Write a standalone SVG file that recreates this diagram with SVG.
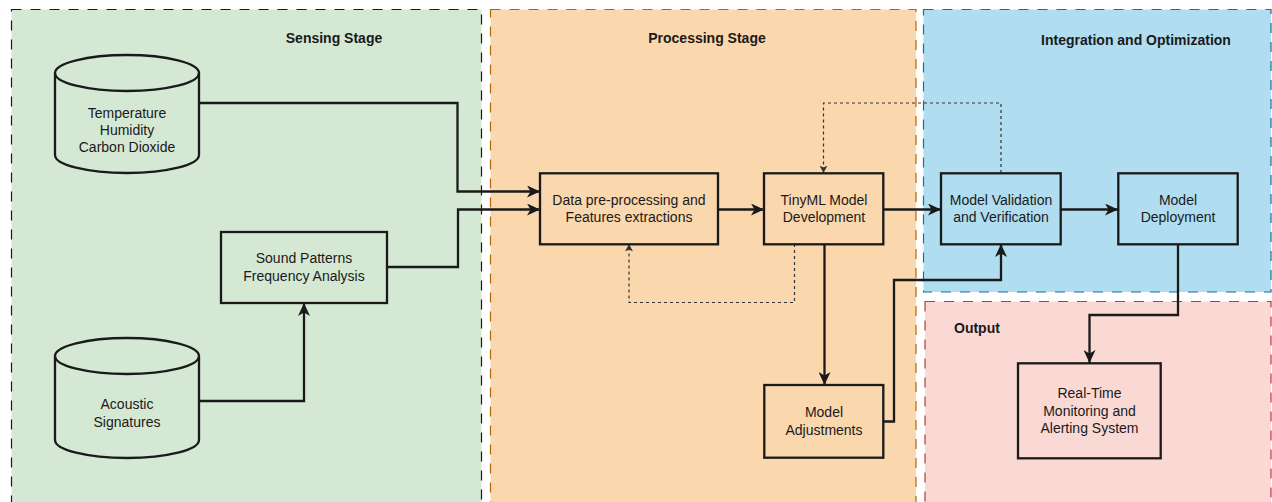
<svg xmlns="http://www.w3.org/2000/svg" width="1272" height="502" viewBox="0 0 1272 502">
  <defs>
    <style>
      .panel { stroke-width: 1.2; stroke-dasharray: 10 9; }
      .node { stroke: #1a1a1a; stroke-width: 2.3; }
      .lbl { font-family: "Liberation Sans", Arial, sans-serif; font-size: 14px; fill: #1a1a1a; text-anchor: middle; }
      .title { font-family: "Liberation Sans", Arial, sans-serif; font-size: 14px; font-weight: bold; fill: #1a1a1a; text-anchor: middle; }
      .edge { fill: none; stroke: #1a1a1a; stroke-width: 2.3; marker-end: url(#arrow); }
      .edge.plain { marker-end: none; }
      .dash { fill: none; stroke: #333; stroke-width: 1.2; stroke-dasharray: 3 3; marker-end: url(#arrowSmall); }
    </style>
    <marker id="arrow" markerUnits="userSpaceOnUse" markerWidth="14" markerHeight="12" viewBox="0 0 14 12" refX="13" refY="6" orient="auto">
      <path d="M0,0 L13,6 L0,12 L3.5,6 Z" fill="#1a1a1a"/>
    </marker>
    <marker id="arrowSmall" markerUnits="userSpaceOnUse" markerWidth="8" markerHeight="8" viewBox="0 0 8 8" refX="7.5" refY="4" orient="auto">
      <path d="M0,0 L7.5,4 L0,8 L2,4 Z" fill="#333"/>
    </marker>
  </defs>

  <rect width="1272" height="502" fill="#ffffff"/>

  <!-- stage panels -->
  <g id="panel-sensing">
    <rect class="panel" x="11.5" y="9.5" width="470" height="500" fill="#d5e8d4" stroke="#1a1a1a"/>
    <text class="title" x="334" y="42.5">Sensing Stage</text>
  </g>
  <g id="panel-processing">
    <rect class="panel" x="490.5" y="9.5" width="425.5" height="500" fill="#fad7ac" stroke="#b46504"/>
    <text class="title" x="707" y="42.5">Processing Stage</text>
  </g>
  <g id="panel-integration">
    <rect class="panel" x="923.5" y="9.5" width="347.5" height="282.5" fill="#b1ddf0" stroke="#10739e"/>
    <text class="title" x="1136" y="45">Integration and Optimization</text>
  </g>
  <g id="panel-output">
    <rect class="panel" x="925" y="301.5" width="346" height="210" fill="#fad9d5" stroke="#ae4132"/>
    <text class="title" x="954" y="332.5" text-anchor="start" style="text-anchor:start">Output</text>
  </g>

  <!-- connectors -->
  <g id="connectors">
    <path class="edge" d="M199,103 H457.5 V191.5 H540"/>
    <path class="edge" d="M387,267 H458 V209.5 H540"/>
    <path class="edge" d="M199,401 H304 V303"/>
    <path class="edge" d="M718,209.5 H764"/>
    <path class="edge" d="M883,209.5 H941"/>
    <path class="edge" d="M1061,209.5 H1118"/>
    <path class="edge" d="M824.5,244 V385"/>
    <path class="edge" d="M883,421.5 H894 V280 H1001 V244"/>
    <path class="edge" d="M1178,244 V315 H1089.5 V363"/>
    <path class="dash" d="M1001,173 V103 H823.5 V173"/>
    <path class="dash" d="M794.5,244 V302.5 H629 V244"/>
  </g>

  <!-- sensor data sources -->
  <g id="env-sensors">
    <path class="node" fill="#d5e8d4" d="M55,73 A72,18 0 0,1 199,73 V155 A72,18 0 0,1 55,155 Z"/>
    <path class="node" fill="none" d="M55,73 A72,18 0 0,0 199,73"/>
    <text class="lbl" x="127" y="118.3">Temperature</text>
    <text class="lbl" x="127" y="135.3">Humidity</text>
    <text class="lbl" x="127" y="152.3">Carbon Dioxide</text>
  </g>
  <g id="acoustic">
    <path class="node" fill="#d5e8d4" d="M55,356 A72,18 0 0,1 199,356 V440 A72,18 0 0,1 55,440 Z"/>
    <path class="node" fill="none" d="M55,356 A72,18 0 0,0 199,356"/>
    <text class="lbl" x="127" y="409.3">Acoustic</text>
    <text class="lbl" x="127" y="426.7">Signatures</text>
  </g>
  <g id="sound-analysis">
    <rect class="node" x="221" y="232" width="166" height="71" fill="#d5e8d4"/>
    <text class="lbl" x="304" y="263.3">Sound Patterns</text>
    <text class="lbl" x="304" y="280.7">Frequency Analysis</text>
  </g>

  <!-- processing -->
  <g id="preprocessing">
    <rect class="node" x="540" y="173.3" width="178" height="71" fill="#fad7ac"/>
    <text class="lbl" x="629" y="205">Data pre-processing and</text>
    <text class="lbl" x="629" y="222.3">Features extractions</text>
  </g>
  <g id="tinyml-dev">
    <rect class="node" x="764" y="173.3" width="119.3" height="71" fill="#fad7ac"/>
    <text class="lbl" x="824" y="205">TinyML Model</text>
    <text class="lbl" x="824" y="222.3">Development</text>
  </g>
  <g id="model-adjust">
    <rect class="node" x="764.3" y="385" width="119" height="72.7" fill="#fad7ac"/>
    <text class="lbl" x="824" y="417.3">Model</text>
    <text class="lbl" x="824" y="435">Adjustments</text>
  </g>

  <!-- integration -->
  <g id="validation">
    <rect class="node" x="941" y="173.3" width="119.7" height="71" fill="#b1ddf0"/>
    <text class="lbl" x="1001" y="205">Model Validation</text>
    <text class="lbl" x="1001" y="222.3">and Verification</text>
  </g>
  <g id="deployment">
    <rect class="node" x="1118.3" y="173.3" width="119.4" height="71" fill="#b1ddf0"/>
    <text class="lbl" x="1178" y="205">Model</text>
    <text class="lbl" x="1178" y="222.3">Deployment</text>
  </g>

  <!-- output -->
  <g id="monitoring">
    <rect class="node" x="1018" y="363.3" width="142.7" height="95" fill="#fad9d5"/>
    <text class="lbl" x="1089.5" y="398.3">Real-Time</text>
    <text class="lbl" x="1089.5" y="415.6">Monitoring and</text>
    <text class="lbl" x="1089.5" y="433">Alerting System</text>
  </g>
</svg>
